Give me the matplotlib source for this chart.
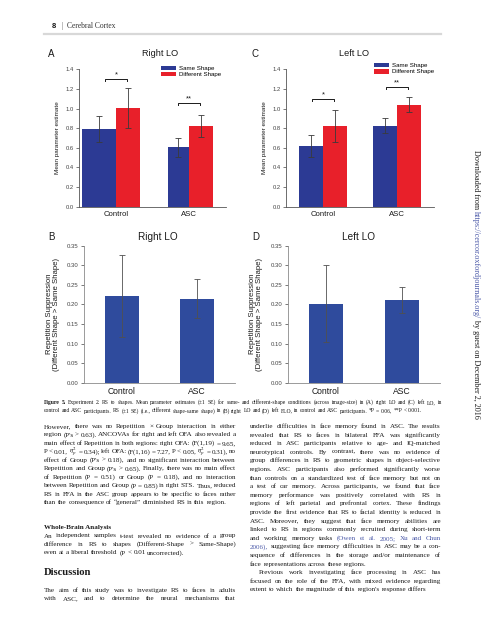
import numpy as np
import matplotlib
matplotlib.use('Agg')
import matplotlib.pyplot as plt

# --- data ---
groups = ['Control', 'ASC']

right_lo_same = [0.79, 0.605]
right_lo_same_se = [0.135, 0.10]
right_lo_diff = [1.005, 0.82]
right_lo_diff_se = [0.20, 0.113]

left_lo_same = [0.62, 0.825]
left_lo_same_se = [0.115, 0.077]
left_lo_diff = [0.82, 1.04]
left_lo_diff_se = [0.163, 0.08]

right_lo_rs = [0.221, 0.215]
right_lo_rs_se = [0.104, 0.049]
left_lo_rs = [0.202, 0.212]
left_lo_rs_se = [0.098, 0.033]

right_lo_stars = ['*', '**']
right_lo_star_y = [1.30, 1.055]
left_lo_stars = ['*', '**']
left_lo_star_y = [1.095, 1.22]

header_num = '8'
header_title = 'Cerebral Cortex'

caption_lines = [
    '#Figure #5. Experiment 2: RS to shapes. Mean parameter estimates (±1 SE) for same- and different-shape conditions (across image-size) in (A) right LO and (C) left LO, in',
    'control and ASC participants. RS (±1 SE) (i.e., different shape-same shape) in (B) right LO and (D) left FLO, in control and ASC participants. *P = 0.06, **P < 0.001.',
]

left_col = [
    'However, there was no Repetition × Group interaction in either',
    "region (P's > 0.63). ANCOVAs for right and left OFA also revealed a",
    'main effect of Repetition in both regions: right OFA: (F(1,19) = 9.65,',
    r'P < 0.01, $\eta_p^2$ = 0.34); left OFA: (F(1,16) = 7.27, P < 0.05, $\eta_p^2$ = 0.31), no',
    "effect of Group (P's > 0.18), and no significant interaction between",
    "Repetition and Group (P's > 0.65). Finally, there was no main effect",
    'of Repetition (P = 0.51) or Group (P = 0.18), and no interaction',
    'between Repetition and Group (P = 0.85) in right STS. Thus, reduced',
    'RS in FFA in the ASC group appears to be specific to faces rather',
    'than the consequence of “general” diminished RS in this region.',
]
whole_brain = [
    'An independent samples t-test revealed no evidence of a group',
    'difference in RS to shapes (Different-Shape > Same-Shape)',
    'even at a liberal threshold (P < 0.01 uncorrected).',
]
discussion = [
    'The aim of this study was to investigate RS to faces in adults',
    'with ASC, and to determine the neural mechanisms that',
]
right_col = [
    'underlie difficulties in face memory found in ASC. The results',
    'revealed that RS to faces in bilateral FFA was significantly',
    'reduced in ASC participants relative to age- and IQ-matched',
    'neurotypical controls. By contrast, there was no evidence of',
    'group differences in RS to geometric shapes in object-selective',
    'regions. ASC participants also performed significantly worse',
    'than controls on a standardized test of face memory but not on',
    'a test of car memory. Across participants, we found that face',
    'memory performance was positively correlated with RS in',
    'regions of left parietal and prefrontal cortex. These findings',
    'provide the first evidence that RS to facial identity is reduced in',
    'ASC. Moreover, they suggest that face memory abilities are',
    'linked to RS in regions commonly recruited during short-term',
    'and working memory tasks ~(Owen ~et ~al. ~2005; ~Xu ~and ~Chun',
    '~2006), suggesting face memory difficulties in ASC may be a con-',
    'sequence of differences in the storage and/or maintenance of',
    'face representations across these regions.',
    'Previous work investigating face processing in ASC has',
    'focused on the role of the FFA, with mixed evidence regarding',
    "extent to which the magnitude of this region's response differs",
]
side_parts = ['Downloaded from ', '~https://cercor.oxfordjournals.org/', ' by guest on December 2, 2016']

# --- style ---
W, H = 485, 640
BLUE = '#2c3a94'
RED = '#e8202a'
BLUE_RS = '#2f4b9d'
INK = '#1a1a1a'
LINK = '#4a58a8'
SANS = 'Liberation Sans'
SERIF = 'Liberation Serif'
plt.rcParams['mathtext.fontset'] = 'stix'

fig = plt.figure(figsize=(W / 100, H / 100), dpi=100)
renderer = fig.canvas.get_renderer()


def fx(x):
    return x / W


def fy(y):
    return 1 - y / H


def px_axes(left, top, right, bottom):
    return fig.add_axes([fx(left), fy(bottom), (right - left) / W, (bottom - top) / H])


def text_line(x0, x1, y, line, size, justify=True, color=INK):
    words = line.split(' ')
    arts = []
    for w in words:
        c, weight = color, 'normal'
        if w.startswith('~'):
            w, c = w[1:], LINK
        if w.startswith('#'):
            w, weight = w[1:], 'bold'
        arts.append(fig.text(0, 0, w, fontsize=size, family=SERIF, color=c,
                             weight=weight, va='baseline'))
    widths = [a.get_window_extent(renderer).width for a in arts]
    space = size * 100 / 72 * 0.25
    need = sum(widths) + space * 0.6 * (len(arts) - 1)
    if need > x1 - x0:
        # shrink the line a little rather than let it run over the margin
        k = (x1 - x0) / need
        for a in arts:
            a.set_fontsize(size * k)
        widths = [a.get_window_extent(renderer).width for a in arts]
    gap = space
    if justify and len(arts) > 1:
        gap = (x1 - x0 - sum(widths)) / (len(arts) - 1)
    x = x0
    for a, w in zip(arts, widths):
        a.set_position((fx(x), fy(y)))
        x += w + gap


def shape_panel(ax, same, same_se, diff, diff_se, stars, star_y, same_w):
    x = np.arange(len(groups))
    w = 0.33
    err = dict(ecolor='#3a3a3a', elinewidth=0.6, capsize=2.2, capthick=0.6)
    ax.bar(x, same, width=-np.array(same_w), align='edge', yerr=same_se,
           color=BLUE, error_kw=err, label='Same Shape', zorder=2)
    ax.bar(x, diff, width=w, align='edge', yerr=diff_se,
           color=RED, error_kw=err, label='Different Shape', zorder=2)
    for xi, s, sy in zip(x, stars, star_y):
        x0, x1 = xi - 0.145, xi + 0.145
        ax.plot([x0, x0, x1, x1], [sy - 0.02, sy, sy, sy - 0.02], color=INK, lw=0.7)
        ax.text(xi, sy + 0.005, s, ha='center', va='bottom', fontsize=5.5,
                family=SANS, color=INK)
    ax.set_xlim(-0.5, 1.5)
    ax.set_ylim(0, 1.4)
    ax.set_yticks(np.arange(0, 1.41, 0.2))
    ax.set_yticklabels(['%.1f' % v for v in np.arange(0, 1.41, 0.2)])
    ax.set_xticks(x)
    ax.set_xticklabels(groups)
    ax.set_ylabel('Mean parameter estimate', fontsize=4.6, family=SANS,
                  color=INK, labelpad=4)
    for s in ['top', 'right']:
        ax.spines[s].set_visible(False)
    for s in ['left', 'bottom']:
        ax.spines[s].set_color('#555555')
        ax.spines[s].set_linewidth(0.6)
    ax.tick_params(axis='y', length=2, width=0.5, labelsize=4.2, pad=2,
                   colors='#444444')
    ax.tick_params(axis='x', length=0, labelsize=5.6, pad=3, colors=INK)
    for t in ax.get_xticklabels() + ax.get_yticklabels():
        t.set_family(SANS)


def rs_panel(ax, vals, se):
    x = np.arange(len(groups))
    ax.bar(x, vals, width=0.46, yerr=se, color=BLUE_RS, zorder=2,
           error_kw=dict(ecolor='#505050', elinewidth=0.6, capsize=2.4, capthick=0.6))
    ax.set_xlim(-0.5, 1.5)
    ax.set_ylim(0, 0.35)
    ticks = np.arange(0, 0.351, 0.05)
    ax.set_yticks(ticks)
    ax.set_yticklabels(['%.2f' % v for v in ticks])
    ax.set_xticks(x)
    ax.set_xticklabels(groups)
    ax.set_ylabel('Repetition Suppression\n(Different Shape > Same Shape)',
                  fontsize=5.6, family=SANS, color=INK, labelpad=5, linespacing=1.0)
    for s in ['top', 'right']:
        ax.spines[s].set_visible(False)
    for s in ['left', 'bottom']:
        ax.spines[s].set_color('#8a8a8a')
        ax.spines[s].set_linewidth(0.6)
    ax.tick_params(axis='y', length=2.2, width=0.5, labelsize=4.3, pad=2,
                   colors='#444444')
    ax.tick_params(axis='x', length=0, labelsize=6.2, pad=3, colors=INK)
    for t in ax.get_xticklabels() + ax.get_yticklabels():
        t.set_family(SANS)


# --- header ---
fig.text(fx(52), fy(27.5), header_num, fontsize=5.5, weight='bold', family=SANS,
         color=INK, va='baseline')
fig.text(fx(61), fy(27.5), '|', fontsize=5.5, family=SERIF, color='#555555', va='baseline')
fig.text(fx(67), fy(27.5), header_title, fontsize=5.5, family=SERIF, color='#333333',
         va='baseline')
fig.add_artist(plt.Line2D([fx(44), fx(441)], [fy(34), fy(34)], color='#d8d8d8', lw=1.6))

# --- panels A and C ---
axA = px_axes(79.5, 69.3, 225.5, 206.7)
shape_panel(axA, right_lo_same, right_lo_same_se, right_lo_diff, right_lo_diff_se,
            right_lo_stars, right_lo_star_y, [0.46, 0.29])
axC = px_axes(286, 69.3, 434, 206.7)
shape_panel(axC, left_lo_same, left_lo_same_se, left_lo_diff, left_lo_diff_se,
            left_lo_stars, left_lo_star_y, [0.33, 0.33])
for ax, lx, ly in [(axA, 161, 65.5), (axC, 374, 63)]:
    ax.legend(loc='upper left', bbox_to_anchor=(fx(lx), fy(ly)),
              bbox_transform=fig.transFigure, frameon=False,
              prop={'family': SANS, 'size': 4.4}, handlelength=2.5,
              handleheight=0.75, labelspacing=0.12, borderpad=0,
              borderaxespad=0, handletextpad=0.5)

# --- panels B and D ---
axB = px_axes(84.5, 245.7, 234.5, 382.7)
rs_panel(axB, right_lo_rs, right_lo_rs_se)
axD = px_axes(288, 245.7, 440, 382.7)
rs_panel(axD, left_lo_rs, left_lo_rs_se)

for letter, title, lx, tx, ty, fs in [('A', 'Right LO', 48, 160, 54, 6.6),
                                      ('C', 'Left LO', 252, 354, 54, 6.6),
                                      ('B', 'Right LO', 48, 158, 237, 7.2),
                                      ('D', 'Left LO', 252, 358, 237, 7.2)]:
    fig.text(fx(lx), fy(ty), letter, fontsize=7, family=SANS, color=INK, va='center')
    fig.text(fx(tx), fy(ty), title, fontsize=fs, family=SANS, color=INK,
             va='center', ha='center')

# --- caption ---
text_line(44, 442, 404, caption_lines[0], 4.1, justify=True)
text_line(44, 442, 412.5, caption_lines[1], 4.1, justify=False)

# --- body text ---
BS = 5.1
for i, line in enumerate(left_col):
    text_line(44, 236, 428 + i * 8.45, line, BS, justify=(i < len(left_col) - 1))
fig.text(fx(44), fy(529), 'Whole-Brain Analysis', fontsize=BS, family=SERIF,
         weight='bold', color=INK, va='baseline')
for i, line in enumerate(whole_brain):
    text_line(44, 236, 537.5 + i * 8.45, line, BS, justify=(i < len(whole_brain) - 1))
fig.text(fx(44), fy(575), 'Discussion', fontsize=7.6, family=SERIF,
         weight='bold', color=INK, va='baseline')
for i, line in enumerate(discussion):
    text_line(44, 236, 592 + i * 8.45, line, BS, justify=True)

last_lines = {16, 19}
for i, line in enumerate(right_col):
    x0 = 259 if i == 17 else 250
    text_line(x0, 441, 428 + i * 8.6, line, BS, justify=(i not in last_lines))

# --- vertical side note ---
yy = 150
for part in side_parts:
    c = INK
    if part.startswith('~'):
        part, c = part[1:], LINK
    t = fig.text(fx(476), fy(yy), part, fontsize=5.9, family=SERIF, color=c,
                 rotation=-90, ha='center', va='top')
    yy += t.get_window_extent(renderer).height

fig.savefig('out.png', dpi=100)
